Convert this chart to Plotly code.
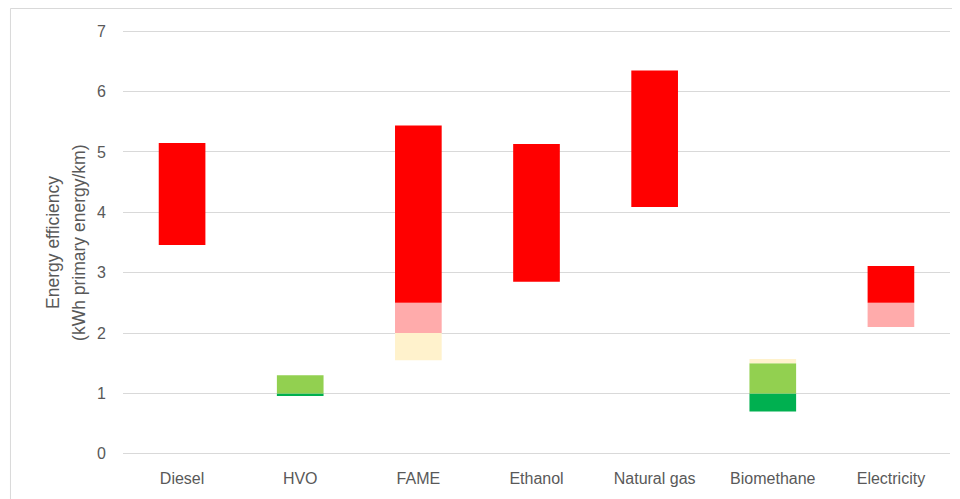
import plotly.graph_objects as go

categories = ["Diesel", "HVO", "FAME", "Ethanol", "Natural gas", "Biomethane", "Electricity"]
range_low = [3.46, 0.97, 1.55, 2.85, 4.09, 0.70, 2.10]
range_high = [5.15, 1.30, 5.44, 5.13, 6.35, 1.57, 3.11]

band_edges = [0, 1.0, 1.5, 2.0, 2.5, 100]
band_colors = ["#00B050", "#92D050", "#FFF2CC", "#FFABAB", "#FF0000"]
y_ticks = [0, 1, 2, 3, 4, 5, 6, 7]
title_lines = ["Energy efficiency", "(kWh primary energy/km)"]

fig = go.Figure()
for i, color in enumerate(band_colors):
    b_lo, b_hi = band_edges[i], band_edges[i + 1]
    bases, heights = [], []
    for lo, hi in zip(range_low, range_high):
        s_lo, s_hi = max(lo, b_lo), min(hi, b_hi)
        if s_hi > s_lo:
            bases.append(s_lo)
            heights.append(s_hi - s_lo)
        else:
            bases.append(None)
            heights.append(None)
    fig.add_trace(go.Bar(x=categories, y=heights, base=bases,
                         marker=dict(color=color, line=dict(width=0)),
                         showlegend=False, hoverinfo="skip"))

# page body has an 8px margin; figure is sized/offset to compensate
W, H = 952, 491
pl, pr = 114.6, 942.0          # plot left/right in figure px
y0px, y7px = 446.0, 23.7       # y=0 and y=7 in figure px
ppu = (y0px - y7px) / 7
ext = 0.02
top_px = y7px - ext * ppu
bot_px = y0px + ext * ppu
pw = pr - pl
ph = bot_px - top_px

font_fam = "Liberation Sans, Arial, sans-serif"
title_x_px = [44.0, 70.0]
annotations = [dict(text=t, textangle=-90, xref="paper", yref="paper",
                    x=(xp - pl) / pw, y=0.5, xanchor="center", yanchor="middle",
                    showarrow=False, font=dict(size=17.5, color="#595959"))
               for t, xp in zip(title_lines, title_x_px)]

fig.update_layout(
    width=W, height=H,
    margin=dict(l=pl, r=W - pr, t=top_px, b=H - bot_px, autoexpand=False),
    paper_bgcolor="white", plot_bgcolor="white",
    barmode="overlay", bargap=0.605,
    font=dict(family=font_fam, size=16, color="#595959"),
    xaxis=dict(showgrid=False, showline=False, ticks="", ticklabelstandoff=12,
               tickfont=dict(size=16, color="#595959")),
    yaxis=dict(range=[-ext, 7 + ext], tickvals=y_ticks, showgrid=True, gridcolor="#D9D9D9", gridwidth=1,
               zeroline=False, showline=False, ticks="", ticklabelstandoff=16,
               tickfont=dict(size=16, color="#595959")),
    annotations=annotations,
    shapes=[dict(type="rect", xref="paper", yref="paper",
                 x0=(2 - pl) / pw, x1=1.2, y0=-0.3, y1=(bot_px - 1) / ph,
                 line=dict(color="#D9D9D9", width=1), fillcolor="rgba(0,0,0,0)", layer="below")],
)
fig.write_html("out.html")
